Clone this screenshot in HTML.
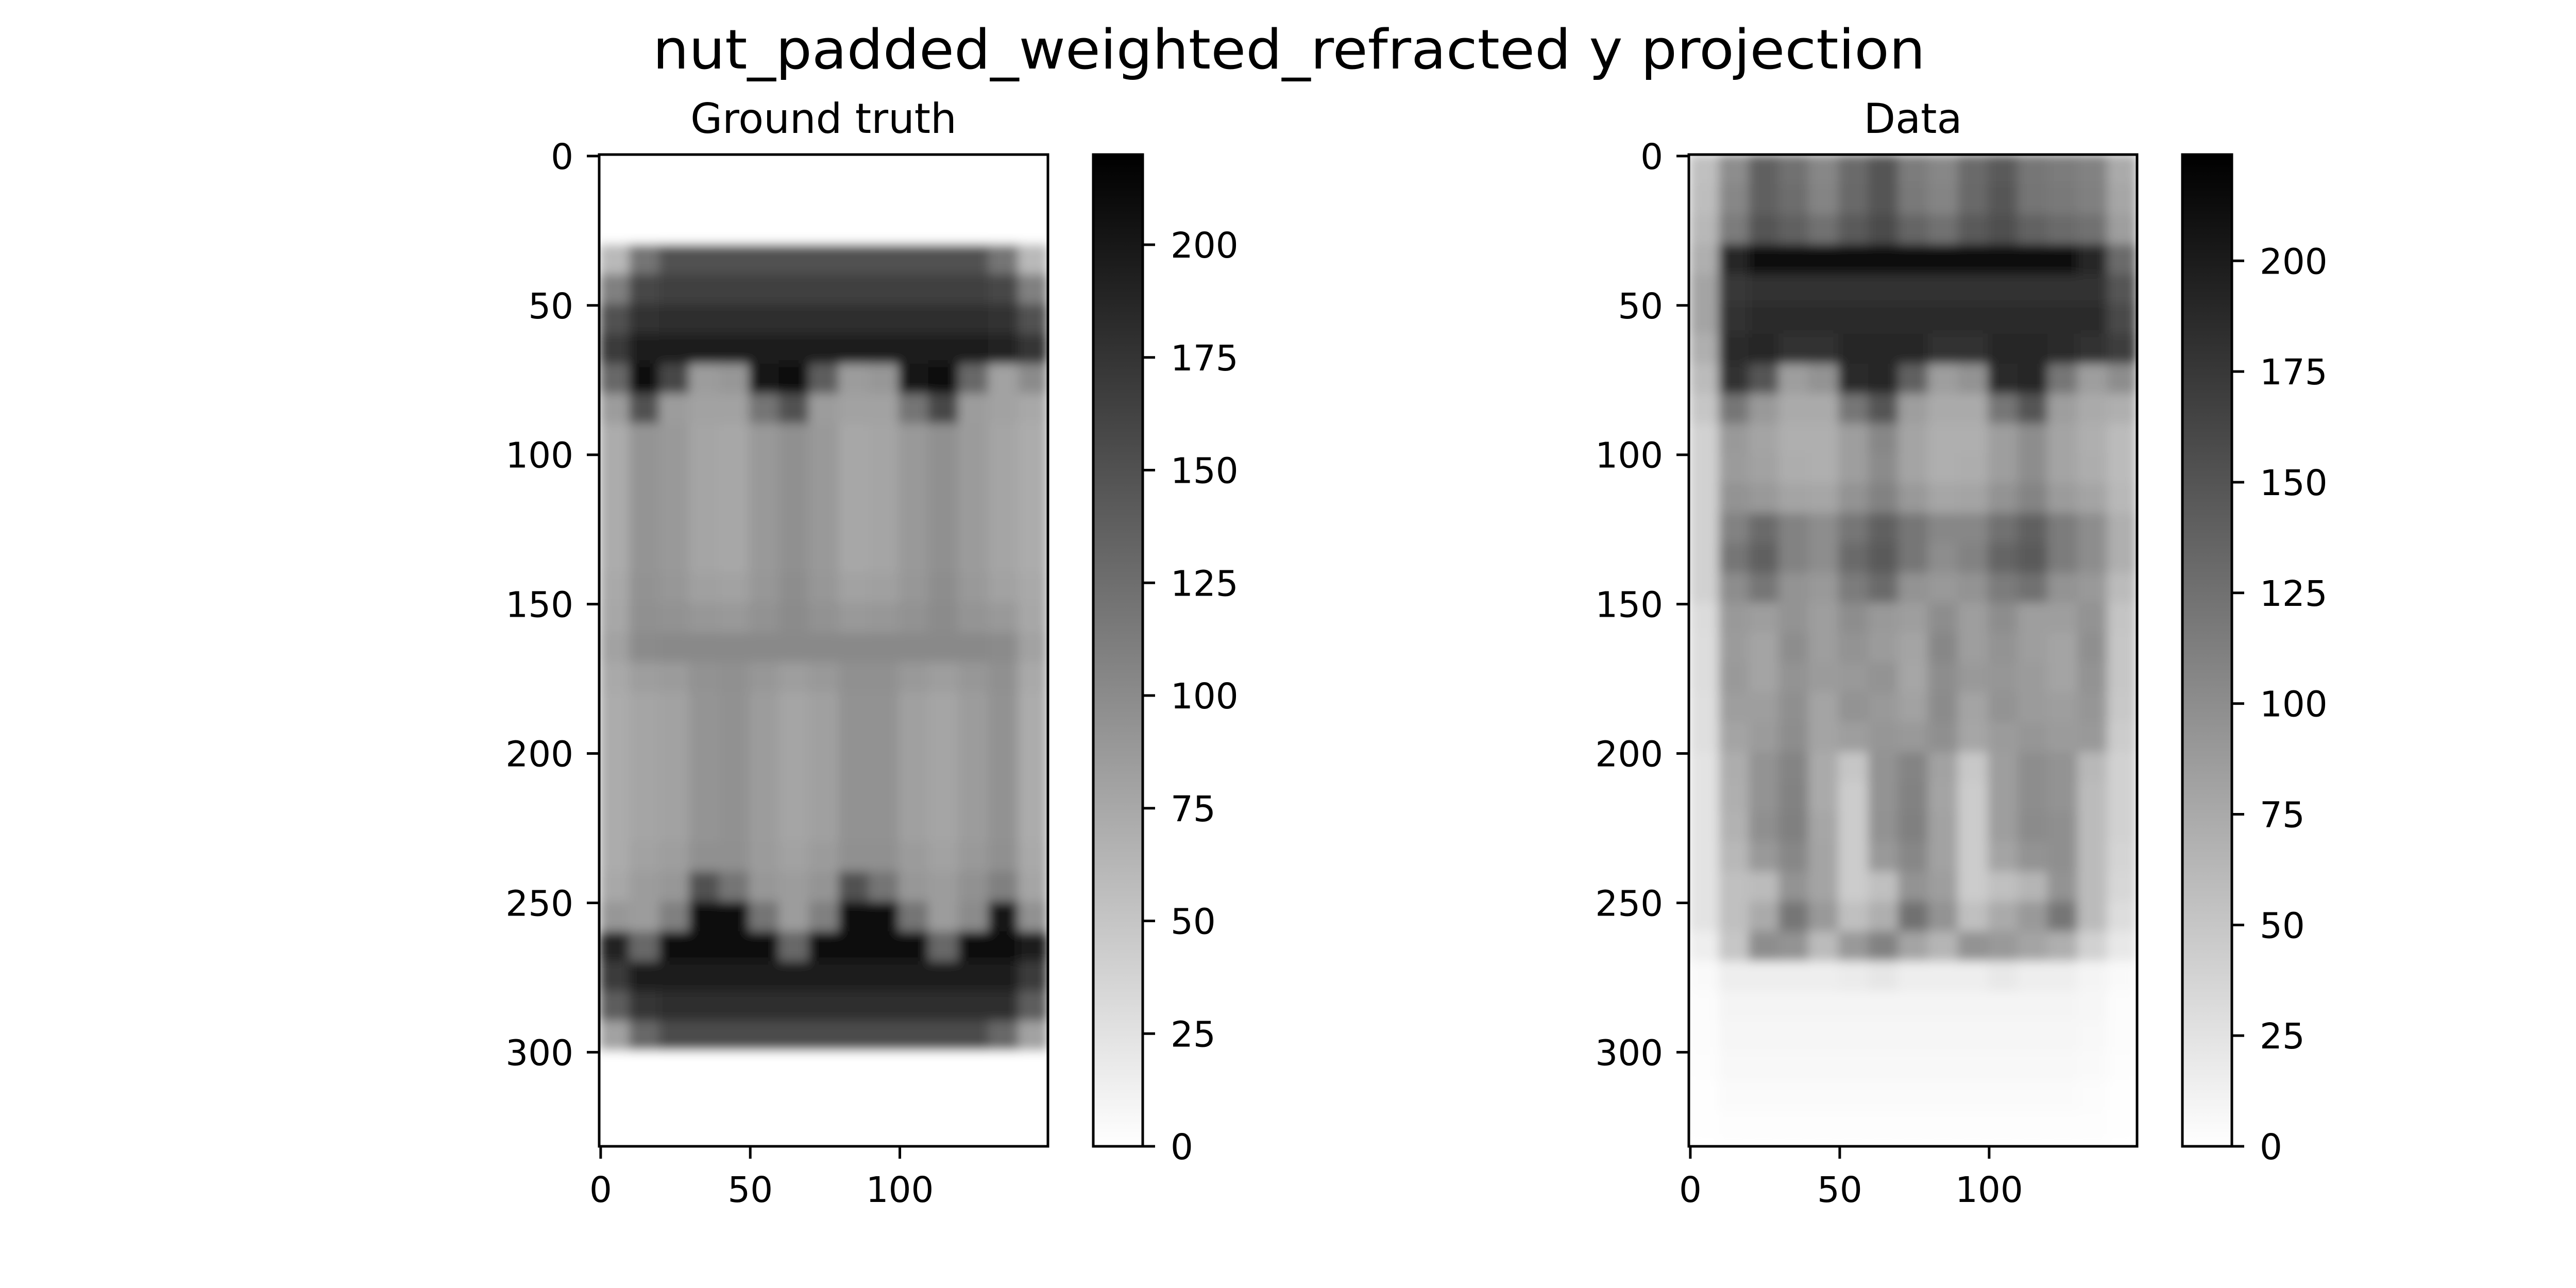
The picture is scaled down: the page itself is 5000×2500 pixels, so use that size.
<!DOCTYPE html>
<html><head><meta charset="utf-8">
<style>
html,body{margin:0;padding:0;background:#fff;}
svg{display:block;}
text{font-family:"DejaVu Sans","Liberation Sans",sans-serif;fill:#000;}
</style></head>
<body>
<svg id="fig" xmlns="http://www.w3.org/2000/svg" width="5000" height="2500" viewBox="0 0 5000 2500">
<defs>
<linearGradient id="cmap" x1="0" y1="1" x2="0" y2="0">
<stop offset="0" stop-color="#ffffff"/><stop offset="1" stop-color="#000000"/>
</linearGradient>
<filter id="soft" x="0" y="0" width="1" height="1"><feGaussianBlur stdDeviation="10"/></filter>
<clipPath id="clipL"><rect x="1163" y="300" width="871" height="1925"/></clipPath>
<clipPath id="clipR"><rect x="3278" y="300" width="870" height="1925"/></clipPath>
</defs>
<rect width="5000" height="2500" fill="#fff"/>
<text x="2502" y="133" font-size="106" text-anchor="middle" textLength="2470" lengthAdjust="spacingAndGlyphs">nut_padded_weighted_refracted y projection</text>
<g id="panelL"></g>
<g id="panelR"></g>
</svg>
<script>
// Column/row bin edges in data units (each cell spans 10 data units)
const colStarts = [0,10,20,30,40,50,60,70,80,90,100,110,120,130,140];
const rowStarts = [0,10,20,30,40,50,60,70,80,90,100,110,120,130,140,150,160,170,180,190,200,210,220,230,240,250,260,270,280,290,300,310,320,330];
const xTicks = [0,50,100];
const yTicks = [0,50,100,150,200,250,300];
const cbTicks = [0,25,50,75,100,125,150,175,200];
const gtVmax = 220;
const dataVmax = 224;
const gtValues = [
[0,0,0,0,0,0,0,0,0,0,0,0,0,0,0],
[0,0,0,0,0,0,0,0,0,0,0,0,0,0,0],
[0,0,0,0,0,0,0,0,0,0,0,0,0,0,0],
[60,120,150,150,150,150,150,150,150,150,150,150,150,120,60],
[110,160,165,165,165,165,165,165,165,165,165,165,165,160,110],
[150,178,180,180,180,180,180,180,180,180,180,180,180,178,150],
[170,195,195,195,195,195,195,195,195,195,195,195,195,190,175],
[130,205,160,85,90,200,210,140,85,90,200,210,130,80,100],
[85,150,85,80,80,120,150,85,80,80,120,160,85,80,75],
[72,92,88,78,76,88,96,88,76,78,88,96,86,78,72],
[72,92,88,78,76,88,96,88,76,78,88,96,86,78,72],
[72,92,88,78,76,88,96,88,76,78,88,96,86,78,72],
[72,92,88,78,76,88,96,88,76,78,88,96,86,78,72],
[72,92,88,78,76,88,96,88,76,78,88,96,86,78,72],
[74,94,90,82,80,90,98,90,80,82,90,98,88,80,74],
[76,96,94,90,88,94,100,94,88,90,94,100,92,88,76],
[80,100,102,102,102,102,102,102,102,102,102,102,102,100,80],
[74,84,86,94,96,90,84,88,96,96,88,84,90,96,74],
[72,78,80,92,95,85,78,82,94,94,82,78,85,94,72],
[72,78,80,92,95,85,78,82,94,94,82,78,85,94,72],
[72,78,80,92,95,85,78,82,94,94,82,78,85,94,72],
[72,78,80,92,95,85,78,82,94,94,82,78,85,94,72],
[72,78,80,92,95,85,78,82,94,94,82,78,85,94,72],
[72,80,84,96,96,86,80,86,96,96,86,80,88,96,74],
[75,85,90,150,120,90,85,92,150,120,90,85,95,110,78],
[90,85,110,205,205,120,85,110,205,205,120,85,100,200,95],
[190,130,205,205,205,205,130,205,205,205,205,130,205,205,195],
[170,195,195,195,195,195,195,195,195,195,195,195,195,195,170],
[140,175,180,180,180,180,180,180,180,180,180,180,180,180,140],
[80,130,155,155,155,155,155,155,155,155,155,155,155,130,80],
[0,0,0,0,0,0,0,0,0,0,0,0,0,0,0],
[0,0,0,0,0,0,0,0,0,0,0,0,0,0,0],
[0,0,0,0,0,0,0,0,0,0,0,0,0,0,0],
[0,0,0,0,0,0,0,0,0,0,0,0,0,0,0]
];
const dataValues = [
[55,100,140,125,105,130,150,115,105,130,145,120,115,110,75],
[58,105,140,128,108,132,150,118,108,132,148,122,118,112,78],
[62,115,150,140,125,145,158,135,125,145,155,138,130,125,85],
[70,190,215,215,215,215,215,215,215,215,215,215,215,190,130],
[80,175,180,180,180,180,180,180,180,180,180,180,180,180,150],
[80,180,185,185,185,185,185,185,185,185,185,185,185,185,160],
[70,185,190,180,180,190,190,190,180,180,190,190,185,180,170],
[60,180,150,85,95,185,190,140,85,95,185,190,120,85,100],
[50,120,90,75,75,120,150,85,75,75,120,150,85,75,70],
[40,90,80,70,70,85,105,80,70,70,85,100,80,70,60],
[40,88,82,72,70,85,102,80,70,72,85,100,80,72,60],
[40,95,90,80,78,95,110,90,78,80,95,108,88,80,62],
[40,110,130,110,100,120,140,120,105,105,125,140,115,100,70],
[40,120,140,110,100,130,145,120,100,110,135,145,115,100,70],
[40,100,120,95,90,115,130,95,90,95,115,125,95,90,60],
[32,90,85,95,85,100,90,85,100,85,100,85,85,95,52],
[30,88,80,100,85,95,88,80,105,85,95,85,80,98,50],
[30,90,80,95,88,90,95,78,100,90,92,88,80,95,50],
[28,85,85,98,80,95,90,82,102,80,95,88,85,92,48],
[28,80,88,100,80,85,92,90,98,78,88,92,88,90,45],
[25,72,95,108,75,50,95,108,82,48,85,100,95,62,40],
[25,70,95,110,75,45,95,110,80,45,85,100,95,60,40],
[25,68,98,112,78,45,96,112,82,45,85,102,98,60,40],
[25,62,90,105,80,45,90,105,82,45,80,95,98,60,38],
[25,55,60,95,80,45,55,95,85,45,55,65,95,60,35],
[25,55,75,120,90,55,70,125,95,55,75,90,120,60,30],
[15,50,100,95,60,90,110,80,65,95,90,80,70,40,20],
[5,15,15,15,15,18,22,15,15,15,20,15,15,10,5],
[3,10,10,10,10,10,10,10,10,10,10,10,10,8,3],
[3,8,8,8,8,8,8,8,8,8,8,8,8,6,3],
[2,6,6,6,6,6,6,6,6,6,6,6,6,5,2],
[1,4,4,4,4,4,4,4,4,4,4,4,4,3,1],
[1,2,2,2,2,2,2,2,2,2,2,2,2,2,1],
[0,1,1,1,1,1,1,1,1,1,1,1,1,1,0]
];
const NS = "http://www.w3.org/2000/svg";
const XMIN = -0.5, XMAX = 149.5, YMIN = -0.5, YMAX = 331.5;

function mk(tag, attrs, parent){
  const e = document.createElementNS(NS, tag);
  for (const k in attrs) e.setAttribute(k, attrs[k]);
  parent.appendChild(e);
  return e;
}
function grayOf(v, vmax){
  const t = Math.max(0, Math.min(1, v / vmax));
  const g = Math.round(255 * (1 - t));
  return "rgb(" + g + "," + g + "," + g + ")";
}

function drawPanel(panelId, title, titleName, ax, cb, values, vmax, clipId){
  const P = document.getElementById(panelId);
  const sx = v => ax.x + (v - XMIN) / (XMAX - XMIN) * ax.w;
  const sy = v => ax.y + (v - YMIN) / (YMAX - YMIN) * ax.h;
  const cy = v => cb.y + cb.h - v / vmax * cb.h;

  const img = mk("g", {"clip-path": "url(#" + clipId + ")"}, P);
  
  
  const blurG = mk("g", {filter: "url(#soft)"}, img);
  mk("rect", {x: ax.x, y: ax.y, width: ax.w, height: ax.h, fill: "#fff"}, blurG);
  for (let r = 0; r < rowStarts.length; r++){
    for (let c = 0; c < colStarts.length; c++){
      const x0 = sx(colStarts[c] - 0.5), x1 = sx(colStarts[c] + 9.5);
      const y0 = sy(rowStarts[r] - 0.5), y1 = sy(Math.min(rowStarts[r] + 9.5, YMAX));
      const cell = mk("rect", {x: x0, y: y0, width: x1 - x0 + 0.6, height: y1 - y0 + 0.6, fill: grayOf(values[r][c], vmax)}, blurG);
      
      
    }
  }
  const frame = mk("rect", {x: ax.x, y: ax.y, width: ax.w, height: ax.h, fill: "none", stroke: "#000", "stroke-width": 5}, P);
  
  

  const t = mk("text", {x: ax.x + ax.w / 2, y: 258, "font-size": 80, "text-anchor": "middle"}, P);
  t.textContent = title;
  
  

  xTicks.forEach(v => {
    const x = sx(v);
    const tk = mk("line", {x1: x, y1: ax.y + ax.h, x2: x, y2: ax.y + ax.h + 24, stroke: "#000", "stroke-width": 5}, P);
    
    
    const lb = mk("text", {x: x, y: 2333, "font-size": 69, "text-anchor": "middle"}, P);
    lb.textContent = v;
    
    
  });
  yTicks.forEach(v => {
    const y = sy(v);
    const tk = mk("line", {x1: ax.x - 24, y1: y, x2: ax.x, y2: y, stroke: "#000", "stroke-width": 5}, P);
    
    
    const lb = mk("text", {x: ax.x - 50, y: y + 25, "font-size": 69, "text-anchor": "end"}, P);
    lb.textContent = v;
    
    
  });

  const bar = mk("rect", {x: cb.x, y: cb.y, width: cb.w, height: cb.h, fill: "url(#cmap)", stroke: "#000", "stroke-width": 5}, P);
  
  
  cbTicks.forEach(v => {
    const y = cy(v);
    const tk = mk("line", {x1: cb.x + cb.w, y1: y, x2: cb.x + cb.w + 24, y2: y, stroke: "#000", "stroke-width": 5}, P);
    
    
    const lb = mk("text", {x: cb.x + cb.w + 54, y: y + 25, "font-size": 69, "text-anchor": "start"}, P);
    lb.textContent = v;
    
    
  });
}

drawPanel("panelL", "Ground truth", "ground-truth-title",
  {x: 1163, y: 300, w: 871, h: 1925}, {x: 2122, y: 300, w: 96, h: 1925},
  gtValues, gtVmax, "clipL");
drawPanel("panelR", "Data", "data-title",
  {x: 3278, y: 300, w: 870, h: 1925}, {x: 4236, y: 300, w: 96, h: 1925},
  dataValues, dataVmax, "clipR");
</script>
</body></html>
